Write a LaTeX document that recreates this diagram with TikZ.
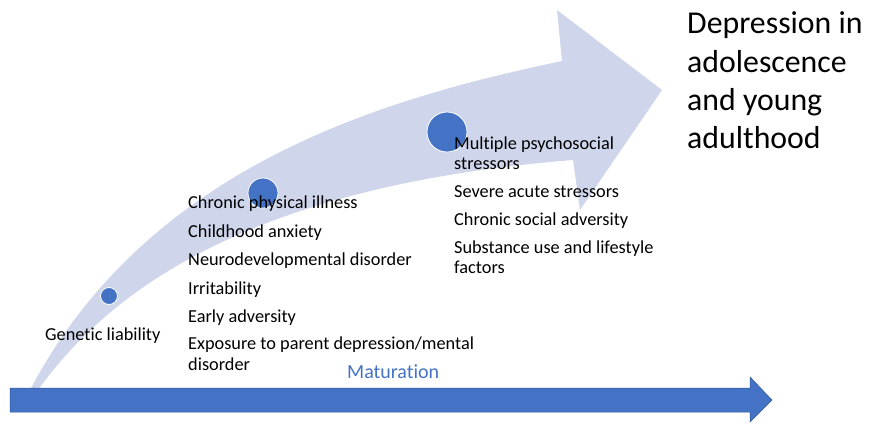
\documentclass[tikz,border=0pt]{standalone}
\usepackage{fontspec}
\setmainfont{Carlito}[Ligatures=NoCommon]
\usetikzlibrary{positioning}
\definecolor{accent}{RGB}{68,114,196}
\definecolor{accentdark}{RGB}{47,85,151}
\definecolor{band}{RGB}{207,213,234}

\begin{document}
\begin{tikzpicture}[
    x=1pt, y=-1pt,
    dot/.style={circle, fill=accent, draw=white, line width=0.8pt, inner sep=0pt},
    item/.style={anchor=base west, inner sep=0pt, font=\fontsize{18.3}{22}\selectfont},
    title/.style={anchor=base west, inner sep=0pt, font=\fontsize{31.8}{38}\selectfont}
]
\useasboundingbox (0,0) rectangle (869,423);

% curved arrow
\fill[band] (30,390) .. controls (150,162) and (392,97) .. (562,61)
  -- (557,10) -- (662,90) -- (580,210) -- (573,160)
  .. controls (323,180) and (138,250) .. (38,390) -- cycle;

% maturation arrow
\fill[accent, draw=accentdark, line width=0.5pt] (10,388) -- (750,388) -- (750,377) -- (772,400) -- (750,422) -- (750,412) -- (10,412) -- cycle;
\node[anchor=base west, inner sep=0pt, font=\fontsize{20}{24}\selectfont, text=accent] (matur) at (347,378) {Maturation};

% stages
\node[dot, minimum size=17pt] (early) at (109,296) {};
\node[dot, minimum size=30pt] (child) at (263,193) {};
\node[dot, minimum size=40pt] (adol) at (447,132) {};

\node[item] (genetic) at (45,340) {Genetic liability};

\node[item] (illness) at (188,208) {Chronic physical illness};
\node[item] (anxiety) at (188,237) {Childhood anxiety};
\node[item] (neuro) at (188,265) {Neurodevelopmental disorder};
\node[item] (irrit) at (188,294) {Irritability};
\node[item] (advers) at (188,322) {Early adversity};
\node[item] (expo) at (188,349) {Exposure to parent depression/mental};
\node[item] (expob) at (188,370) {disorder};

\node[item] (multi) at (454,149) {Multiple psychosocial};
\node[item] (multib) at (454,169) {stressors};
\node[item] (acute) at (454,197) {Severe acute stressors};
\node[item] (social) at (454,225) {Chronic social adversity};
\node[item] (subst) at (454,253) {Substance use and lifestyle};
\node[item] (substb) at (454,273) {factors};

\node[title] (dep) at (687,33) {Depression in};
\node[title] (depb) at (687,72) {adolescence};
\node[title] (depc) at (687,110) {and young};
\node[title] (depd) at (687,148) {adulthood};
\end{tikzpicture}
\end{document}
